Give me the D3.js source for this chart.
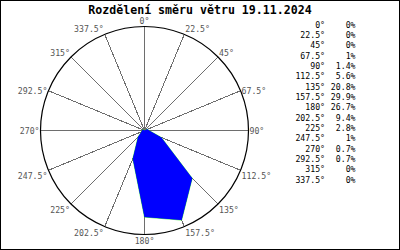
<!DOCTYPE html>
<html>
<head>
<meta charset="utf-8">
<script src="https://cdn.jsdelivr.net/npm/d3@7"></script>
<style>
  body { margin: 0; background: #fff; }
  svg { display: block; }
  text { font-family: "DejaVu Sans Mono", "Liberation Mono", monospace; }
</style>
</head>
<body>
<svg id="chart" width="400" height="250"></svg>
<script>
// wind direction distribution, one value per 22.5° sector
const title = "Rozdělení směru větru 19.11.2024";
const directions = [0, 22.5, 45, 67.5, 90, 112.5, 135, 157.5, 180, 202.5, 225, 247.5, 270, 292.5, 315, 337.5];
const dirLabels = ["0°", "22.5°", "45°", "67.5°", "90°", "112.5°", "135°", "157.5°", "180°", "202.5°", "225°", "247.5°", "270°", "292.5°", "315°", "337.5°"];
const percents = [0, 0, 0, 1, 1.4, 5.6, 20.8, 29.9, 26.7, 9.4, 2.8, 1, 0.7, 0.7, 0, 0];
const pctLabels = ["0%", "0%", "0%", "1%", "1.4%", "5.6%", "20.8%", "29.9%", "26.7%", "9.4%", "2.8%", "1%", "0.7%", "0.7%", "0%", "0%"];

const svg = d3.select("#chart");
const cx = 144.5, cy = 130.5, R = 104;

// compass angle -> screen offset
const rad = d3.scaleLinear().domain([0, 360]).range([0, 2 * Math.PI]);
const r = d3.scaleLinear().domain([0, d3.max(percents)]).range([0, 97]);
const px = (deg, d) => cx + d * Math.sin(rad(deg));
const py = (deg, d) => cy - d * Math.cos(rad(deg));

// frame
svg.append("rect")
  .attr("x", 0.5).attr("y", 0.5).attr("width", 399).attr("height", 249)
  .attr("fill", "#fff").attr("stroke", "#000").attr("shape-rendering", "crispEdges");

svg.append("text")
  .attr("x", 200).attr("y", 14)
  .attr("text-anchor", "middle")
  .attr("font-size", "11.6px").attr("font-weight", "bold")
  .text(title);

// spokes
svg.append("g").selectAll("line")
  .data(directions)
  .join("line")
  .attr("x1", cx).attr("y1", cy)
  .attr("x2", (d) => px(d, R)).attr("y2", (d) => py(d, R))
  .attr("stroke", "#6e6e6e").attr("stroke-width", 1)
  .attr("shape-rendering", "crispEdges");

svg.append("circle")
  .attr("cx", cx).attr("cy", cy).attr("r", R)
  .attr("fill", "none").attr("stroke", "#000").attr("stroke-width", 1.2);

// direction labels round the circle
svg.append("g").selectAll("text")
  .data(directions)
  .join("text")
  .attr("font-size", "8.2px").attr("fill", "#555")
  .attr("dominant-baseline", "central")
  .attr("text-anchor", (d) => {
    const s = Math.sin(rad(d));
    return s > 0.01 ? "start" : s < -0.01 ? "end" : "middle";
  })
  .attr("x", (d) => {
    const s = Math.sin(rad(d));
    return px(d, R) + (s > 0.01 ? 1 : s < -0.01 ? -1 : 0);
  })
  .attr("y", (d) => {
    const c = Math.cos(rad(d));
    let dy = 0.3;
    if (c > 0.5) dy = -6 * c + 0.5;
    else if (c < -0.1) dy = c < -0.9 ? 6.5 : 5.5;
    return py(d, R) + dy;
  })
  .text((d, i) => dirLabels[i]);

// the distribution polygon
const line = d3.line().x((d) => px(d[0], r(d[1]))).y((d) => py(d[0], r(d[1]))).curve(d3.curveLinearClosed);
svg.append("path")
  .datum(d3.zip(directions, percents))
  .attr("d", line)
  .attr("fill", "#0000ff")
  .attr("stroke", "#00e000").attr("stroke-width", 0.6);
svg.append("path")
  .datum(d3.zip(directions, percents))
  .attr("d", line)
  .attr("fill", "#0000ff");

// table on the right
const rowY = d3.scaleLinear().domain([0, directions.length - 1]).range([24.5, 179.5]);
const table = svg.append("g").attr("font-size", "8.2px").attr("fill", "#000");
table.selectAll("text.dir")
  .data(dirLabels)
  .join("text")
  .attr("class", "dir")
  .attr("x", 325).attr("y", (d, i) => rowY(i))
  .attr("text-anchor", "end").attr("dominant-baseline", "central")
  .text((d) => d);
table.selectAll("text.pct")
  .data(pctLabels)
  .join("text")
  .attr("class", "pct")
  .attr("x", 355.5).attr("y", (d, i) => rowY(i))
  .attr("text-anchor", "end").attr("dominant-baseline", "central")
  .text((d) => d);
</script>
</body>
</html>
